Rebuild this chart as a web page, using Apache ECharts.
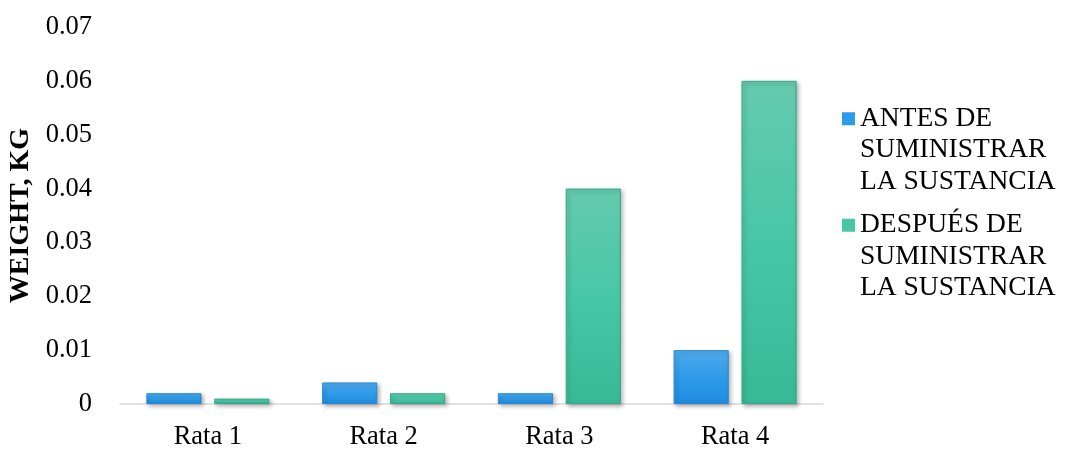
<!DOCTYPE html>
<html>
<head>
<meta charset="utf-8">
<script src="https://cdn.jsdelivr.net/npm/echarts@6/dist/echarts.min.js"></script>
<style>
  html, body { margin: 0; padding: 0; background: #fff; }
  #chart { width: 1065px; height: 449px; }
</style>
</head>
<body>
<div id="chart"></div>
<script>
// Body weight of each rat before and after the substance was given
const categories = ['Rata 1', 'Rata 2', 'Rata 3', 'Rata 4'];
const antes = [0.002, 0.004, 0.002, 0.010];
const despues = [0.001, 0.002, 0.040, 0.060];
const seriesNames = [
  'ANTES DE\nSUMINISTRAR\nLA SUSTANCIA',
  'DESPUÉS DE\nSUMINISTRAR\nLA SUSTANCIA'
];
const yTicks = { min: 0, max: 0.07, interval: 0.01 };

const serif = '"Liberation Serif", "Times New Roman", serif';

function grad(top, mid, bottom) {
  return new echarts.graphic.LinearGradient(0, 0, 0, 1, [
    { offset: 0, color: top },
    { offset: 0.5, color: mid },
    { offset: 1, color: bottom }
  ]);
}

const blueFill = grad('#4FAAEC', '#2F9BE9', '#1E8CE0');
const greenFill = grad('#66CAAF', '#48C7A6', '#37B996');

// square legend marker sitting at the top of a tall transparent box,
// so that it lines up with the first line of the wrapped name
const legendIcon = 'path://M0,0h13v13h-13z M0,76';

const chart = echarts.init(document.getElementById('chart'));
chart.setOption({
  animation: false,
  backgroundColor: '#fff',
  grid: {
    left: 120, right: 242, top: 27, bottom: 45,
    containLabel: false,
    outerBoundsMode: 'none'
  },
  legend: {
    orient: 'vertical',
    left: 837,
    top: 98,
    itemWidth: 13,
    itemHeight: 76,
    itemGap: 12,
    icon: legendIcon,
    data: [
      { name: seriesNames[0], itemStyle: { color: '#2E9BE9', borderWidth: 0 } },
      { name: seriesNames[1], itemStyle: { color: '#48C7A6', borderWidth: 0 } }
    ],
    textStyle: {
      fontFamily: serif,
      fontSize: 27.5,
      color: '#000',
      lineHeight: 31.5
    }
  },
  xAxis: {
    type: 'category',
    data: categories,
    axisLine: { show: true, lineStyle: { color: '#D9D9D9', width: 1.5 } },
    axisTick: { show: false },
    axisLabel: { fontFamily: serif, fontSize: 26.5, color: '#000', margin: 20 },
    splitLine: { show: false }
  },
  yAxis: {
    type: 'value',
    min: yTicks.min,
    max: yTicks.max,
    interval: yTicks.interval,
    name: 'WEIGHT, KG',
    nameLocation: 'middle',
    nameGap: 80,
    nameTextStyle: { fontFamily: serif, fontSize: 28, fontWeight: 'bold', color: '#000' },
    axisLine: { show: false },
    axisTick: { show: false },
    splitLine: { show: false },
    axisLabel: {
      fontFamily: serif, fontSize: 26.5, color: '#000', margin: 28,
      formatter: v => (v === 0 ? '0' : v.toFixed(2))
    }
  },
  series: [
    {
      name: seriesNames[0],
      type: 'bar',
      data: antes,
      barGap: '23%',
      barCategoryGap: '30%',
      itemStyle: {
        color: blueFill,
        borderColor: '#2688D2',
        borderWidth: 1,
        shadowColor: 'rgba(0,0,0,0.3)',
        shadowBlur: 4,
        shadowOffsetX: 2,
        shadowOffsetY: 2
      }
    },
    {
      name: seriesNames[1],
      type: 'bar',
      data: despues,
      barGap: '23%',
      barCategoryGap: '30%',
      itemStyle: {
        color: greenFill,
        borderColor: '#35A887',
        borderWidth: 1,
        shadowColor: 'rgba(0,0,0,0.3)',
        shadowBlur: 4,
        shadowOffsetX: 2,
        shadowOffsetY: 2
      }
    }
  ]
});
</script>
</body>
</html>
